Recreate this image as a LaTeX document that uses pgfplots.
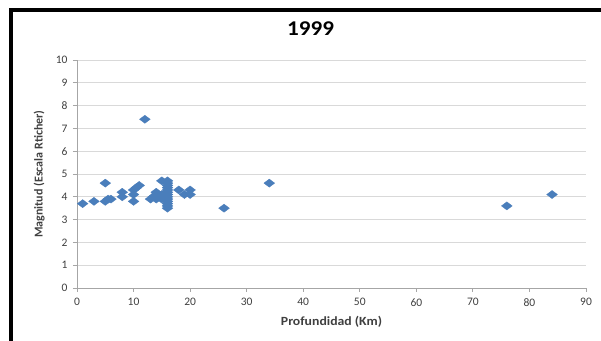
\documentclass[border=0pt]{standalone}
\usepackage{pgfplots}
\pgfplotsset{compat=1.18}
\usepackage{fontspec}
\setmainfont{Carlito}
\definecolor{markblue}{HTML}{4A7EBB}
\definecolor{gridgray}{HTML}{D9D9D9}
\definecolor{axgray}{HTML}{A6A6A6}
\definecolor{labgray}{HTML}{404040}
\begin{document}
\begin{tikzpicture}
\useasboundingbox (0,0) rectangle (601bp,341bp);
\fill[white] (0,0) rectangle (601bp,341bp);
\begin{axis}[
  at={(77bp,53bp)}, anchor=south west,
  scale only axis, width=509bp, height=228bp,
  xmin=0, xmax=90, ymin=0, ymax=10,
  xtick={0,10,...,90}, ytick={0,1,...,10},
  axis x line*=bottom, axis y line*=left,
  axis line style={draw=axgray, line width=0.8bp, -},
  ymajorgrids, grid style={draw=gridgray, line width=0.8bp},
  tick align=outside, major tick length=4bp,
  tick style={draw=axgray, line width=0.8bp},
  /pgf/number format/assume math mode=true,
  ticklabel style={font=\fontsize{11.5bp}{12bp}\selectfont, text=labgray},
  xticklabel style={yshift=-3bp},
  yticklabel style={xshift=-2bp},
  title={1999},
  title style={at={(axis description cs:0.459,1.11)}, anchor=center, xscale=1.1, font=\fontsize{21bp}{22bp}\selectfont\bfseries},
  xlabel={Profundidad (Km)},
  xlabel style={at={(axis description cs:0.5,-0.149)}, anchor=center, xscale=1.1, font=\fontsize{12.5bp}{13bp}\selectfont\bfseries, text=labgray},
  ylabel={Magnitud (Escala Rticher)},
  ylabel style={at={(axis description cs:-0.0745,0.5)}, anchor=center, font=\fontsize{12bp}{13bp}\selectfont\bfseries, text=labgray},
  clip=false,
]
\addplot[only marks, mark=diamond*, mark size=5.4bp,
  mark options={rotate=90, fill=markblue, draw=markblue, line width=0.3bp}]
coordinates {
(1,3.7) (3,3.8) (5,4.6) (5,3.8) (5.5,3.9) (6,3.9) (8,4.2) (8,4.0)
(10,4.3) (10,4.1) (10,3.8) (10.5,4.4) (11,4.5) (12,7.4) (13,3.9)
(13.5,4.0) (14,4.2) (14,4.1) (14,3.9) (14.5,4.0) (15,4.7) (15,3.9) (15,4.1)
(16,4.7) (16,4.6) (16,4.5) (16,4.4) (16,4.3) (16,4.2) (16,4.1) (16,4.0)
(16,3.9) (16,3.8) (16,3.7) (16,3.6) (16,3.5)
(18,4.3) (19,4.1) (20,4.3) (20,4.1) (26,3.5) (34,4.6) (76,3.6) (84,4.1)
};
\end{axis}
\draw[black, line width=4bp] (10.5bp,0bp) -- (10.5bp,331bp) -- (601bp,331bp);
\end{tikzpicture}
\end{document}
